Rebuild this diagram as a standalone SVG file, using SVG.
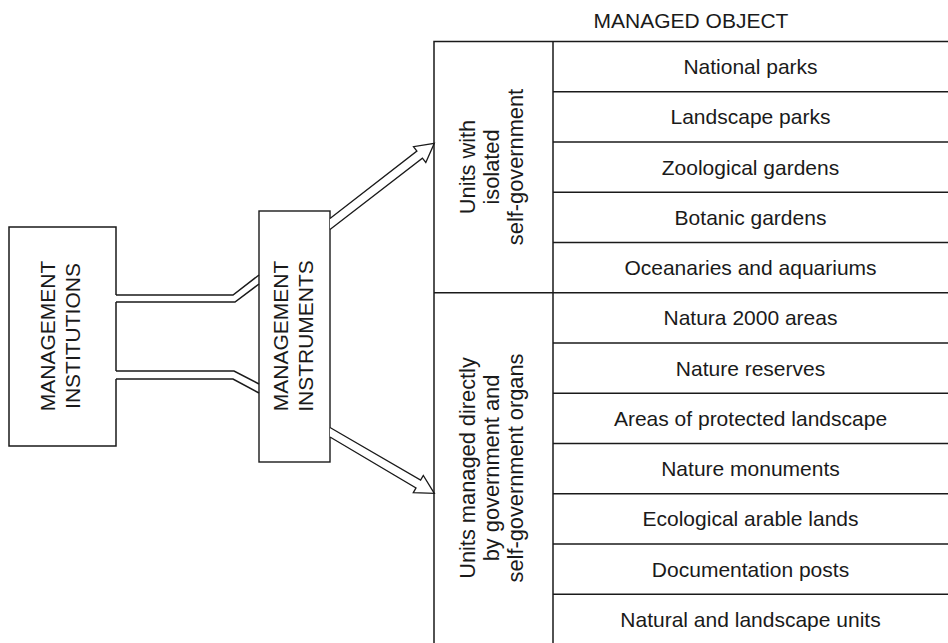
<svg xmlns="http://www.w3.org/2000/svg" width="948" height="643" viewBox="0 0 948 643">
  <style>
    .ln { fill: none; stroke: #1a1a1a; stroke-width: 1.5; }
    .box { fill: #ffffff; stroke: #1a1a1a; stroke-width: 1.4; }
    .arrow { fill: #ffffff; stroke: #1a1a1a; stroke-width: 1.3; stroke-linejoin: miter; }
    .t { font-family: "Liberation Sans", Arial, sans-serif; font-size: 21px; fill: #1a1a1a; text-anchor: middle; }
    .g { font-size: 21.8px; }
  </style>
  <rect width="948" height="643" fill="#ffffff"/>

  <!-- title above the table -->
  <g id="managed-object-title">
    <text class="t" x="691" y="28">MANAGED OBJECT</text>
  </g>

  <!-- left node: outline opens where the two pipes leave it -->
  <g id="management-institutions">
    <path class="ln" d="M116,295 V227 H9 V446 H116 V379 M116,302 V371"/>
    <text class="t" transform="translate(55,336) rotate(-90)">MANAGEMENT</text>
    <text class="t" transform="translate(80,336) rotate(-90)">INSTITUTIONS</text>
  </g>

  <g id="management-instruments">
    <rect class="box" x="259" y="211" width="71" height="251"/>
    <text class="t" transform="translate(288,336) rotate(-90)">MANAGEMENT</text>
    <text class="t" transform="translate(313,336) rotate(-90)">INSTRUMENTS</text>
  </g>

  <!-- connectors: double-line pipes and hollow arrows -->
  <g id="connectors">
    <polyline class="ln" points="116,295 233,295 259,275"/>
    <polyline class="ln" points="116,302 235,302 259,284"/>
    <polyline class="ln" points="116,371 234,371 259,384"/>
    <polyline class="ln" points="116,379 233,379 259,393"/>
    <path class="arrow" d="M330,218.5 L416.9,151.1 L413.5,146.7 L434.3,143.3 L425.8,162.5 L422.4,158.2 L330,229.5"/>
    <path class="arrow" d="M330,427.5 L420.6,480.1 L423.3,475.4 L434.3,493.3 L413.3,492.6 L416,487.9 L330,437"/>
  </g>

  <!-- table frame -->
  <g id="table-frame">
    <path class="ln" d="M434,643 V41.5 H948 M553,41.5 V643 M434,292.75 H948"/>
  </g>

  <!-- group headers (vertical text) -->
  <g id="group-isolated">
    <text class="t g" transform="translate(474.5,167) rotate(-90)">Units with</text>
    <text class="t g" transform="translate(499,167) rotate(-90)">isolated</text>
    <text class="t g" transform="translate(522.5,167) rotate(-90)">self-government</text>
  </g>
  <g id="group-government">
    <text class="t g" transform="translate(474.5,468) rotate(-90)">Units managed directly</text>
    <text class="t g" transform="translate(499,468) rotate(-90)">by government and</text>
    <text class="t g" transform="translate(522.5,468) rotate(-90)">self-government organs</text>
  </g>

  <!-- table rows -->
  <g id="row-01"><text class="t" x="750.5" y="74">National parks</text><path class="ln" d="M553,91.75 H948"/></g>
  <g id="row-02"><text class="t" x="750.5" y="124.3">Landscape parks</text><path class="ln" d="M553,142 H948"/></g>
  <g id="row-03"><text class="t" x="750.5" y="174.5">Zoological gardens</text><path class="ln" d="M553,192.25 H948"/></g>
  <g id="row-04"><text class="t" x="750.5" y="224.8">Botanic gardens</text><path class="ln" d="M553,242.5 H948"/></g>
  <g id="row-05"><text class="t" x="750.5" y="275">Oceanaries and aquariums</text></g>
  <g id="row-06"><text class="t" x="750.5" y="325.3">Natura 2000 areas</text><path class="ln" d="M553,343 H948"/></g>
  <g id="row-07"><text class="t" x="750.5" y="375.5">Nature reserves</text><path class="ln" d="M553,393.25 H948"/></g>
  <g id="row-08"><text class="t" x="750.5" y="425.8">Areas of protected landscape</text><path class="ln" d="M553,443.5 H948"/></g>
  <g id="row-09"><text class="t" x="750.5" y="476">Nature monuments</text><path class="ln" d="M553,493.75 H948"/></g>
  <g id="row-10"><text class="t" x="750.5" y="526.3">Ecological arable lands</text><path class="ln" d="M553,544 H948"/></g>
  <g id="row-11"><text class="t" x="750.5" y="576.5">Documentation posts</text><path class="ln" d="M553,594.25 H948"/></g>
  <g id="row-12"><text class="t" x="750.5" y="626.8">Natural and landscape units</text></g>
</svg>
